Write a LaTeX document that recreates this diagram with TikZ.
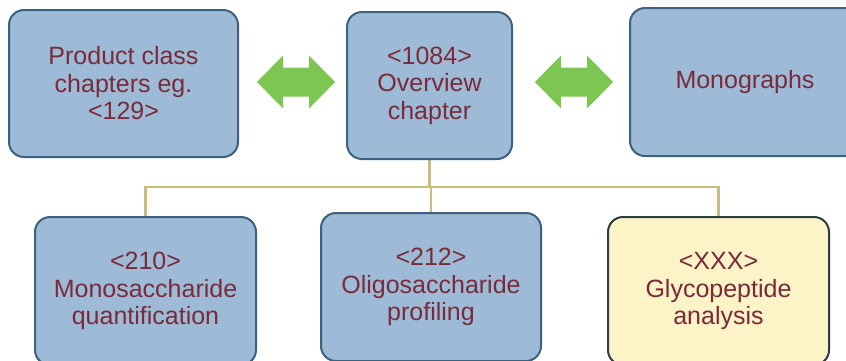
\documentclass[tikz,border=0pt]{standalone}
\usepackage{fontspec}
\setmainfont{Liberation Sans}
\usetikzlibrary{backgrounds}
\definecolor{boxfill}{HTML}{9DBBD6}
\definecolor{boxline}{HTML}{3B6380}
\definecolor{yelfill}{HTML}{FCF3C6}
\definecolor{yelline}{HTML}{2E3B45}
\definecolor{txtcol}{HTML}{7A2A3A}
\definecolor{conncol}{HTML}{C9BD7E}
\definecolor{arrowgreen}{HTML}{7DC652}
\begin{document}
\begin{tikzpicture}[x=1pt,y=-1pt,
  chapbox/.style={draw=boxline, fill=boxfill, line width=2pt, rounded corners=15pt,
    text=txtcol, align=center, inner sep=0pt,
    font=\fontsize{25}{27.5}\selectfont},
  yelbox/.style={chapbox, draw=yelline, fill=yelfill},
  conn/.style={draw=conncol, line width=2.5pt},
  greenarrow/.style={fill=arrowgreen}
]
\useasboundingbox (0,0) rectangle (846,360);
\clip (0,0) rectangle (846,360);

% chapter boxes
\node[chapbox, minimum width=229pt, minimum height=147pt] (tl) at (123.5,83.5) {Product class\\chapters eg.\\<129>};
\node[chapbox, minimum width=165pt, minimum height=147pt] (tc) at (429.5,85.5) {<1084>\\Overview\\chapter};
\node[chapbox, minimum width=230pt, minimum height=148pt] (tr) at (745,82) {Monographs};
\node[chapbox, minimum width=221pt, minimum height=148pt] (bl) at (145.5,291) {<210>\\Monosaccharide\\quantification};
\node[chapbox, minimum width=220pt, minimum height=148pt] (bm) at (431,287) {<212>\\Oligosaccharide\\profiling};
\node[yelbox, minimum width=221pt, minimum height=148pt] (br) at (718.5,291) {<XXX>\\Glycopeptide\\analysis};

% tree connectors
\coordinate (jm) at (429.5,187);
\begin{scope}[on background layer]
\draw[conn] (tc.south) -- (jm);
\draw[conn] (jm) -| (bl.north);
\draw[conn] (jm) -| (br.north);
\draw[conn] (jm) -| (bm.north);
\end{scope}

% green double arrows
\fill[greenarrow] (257,82) -- (283,55.5) -- (283,67.5) -- (309,67.5) -- (309,55.5) -- (335,82)
  -- (309,108.5) -- (309,96.5) -- (283,96.5) -- (283,108.5) -- cycle;
\fill[greenarrow] (535,82) -- (561,55.5) -- (561,67.5) -- (587,67.5) -- (587,55.5) -- (613,82)
  -- (587,108.5) -- (587,96.5) -- (561,96.5) -- (561,108.5) -- cycle;
\end{tikzpicture}
\end{document}
